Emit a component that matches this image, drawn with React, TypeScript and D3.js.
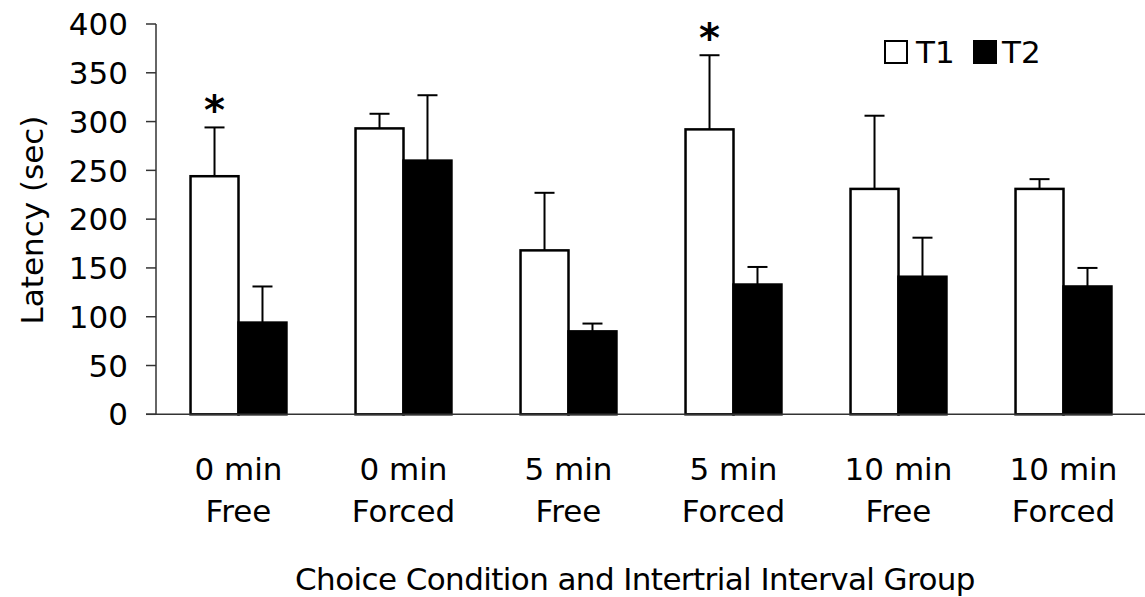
import * as d3 from "d3";

const groups = ["0 min|Free", "0 min|Forced", "5 min|Free", "5 min|Forced", "10 min|Free", "10 min|Forced"];
const t1 = [244, 293, 168, 292, 231, 231];
const t1Err = [50, 15, 59, 76, 75, 10];
const t2 = [94, 260, 85, 133, 141, 131];
const t2Err = [37, 67, 8, 18, 40, 19];
const stars = [true, false, false, true, false, false];
const yTicks = [0, 50, 100, 150, 200, 250, 300, 350, 400];

const W = 1145;
const H = 597;
const FONT = "DejaVu Sans";

export default function App() {
  const x0 = d3.scaleBand<string>().domain(groups).range([156, 1146]);
  const x1 = d3.scaleBand<string>().domain(["T1", "T2"]).range([0, x0.bandwidth()]).paddingOuter(0.72);
  const y = d3.scaleLinear().domain([0, 400]).range([414.3, 24]);
  const bw = x1.bandwidth();

  const series = [
    { key: "T1", vals: t1, errs: t1Err, fill: "#fff" },
    { key: "T2", vals: t2, errs: t2Err, fill: "#000" },
  ];

  return (
    <svg width={W} height={H} style={{ position: "absolute", left: 0, top: 0, background: "#fff" }} fontFamily={FONT}>
      {/* error bars drawn first so the bar outline covers the stem */}
      {series.map((s) =>
        groups.map((g, i) => {
          const cx = (x0(g) ?? 0) + (x1(s.key) ?? 0) + bw / 2;
          const top = y(s.vals[i] + s.errs[i]);
          return (
            <g key={s.key + g + "e"} stroke="#000" strokeWidth={2}>
              <line x1={cx} x2={cx} y1={y(s.vals[i])} y2={top} />
              <line x1={cx - 10} x2={cx + 10} y1={top} y2={top} />
            </g>
          );
        })
      )}
      {series.map((s) =>
        groups.map((g, i) => (
          <rect
            key={s.key + g}
            x={(x0(g) ?? 0) + (x1(s.key) ?? 0)}
            y={y(s.vals[i])}
            width={bw}
            height={y(0) - y(s.vals[i])}
            fill={s.fill}
            stroke="#000"
            strokeWidth={2.5}
          />
        ))
      )}
      {groups.map((g, i) =>
        stars[i] ? (
          <text
            key={g + "s"}
            x={(x0(g) ?? 0) + (x1("T1") ?? 0) + bw / 2}
            y={y(t1[i] + t1Err[i]) - 3}
            textAnchor="middle"
            fontSize={40}
            fontWeight="bold"
          >
            *
          </text>
        ) : null
      )}

      {/* axes */}
      <line x1={156} x2={156} y1={y(400)} y2={y(0)} stroke="#333" strokeWidth={1.5} />
      <line x1={146} x2={1145} y1={y(0)} y2={y(0)} stroke="#333" strokeWidth={1.5} />
      {yTicks.map((t) => (
        <g key={t}>
          <line x1={146} x2={156} y1={y(t)} y2={y(t)} stroke="#333" strokeWidth={1.5} />
          <text x={128} y={y(t)} dy="0.36em" textAnchor="end" fontSize={31}>
            {t}
          </text>
        </g>
      ))}
      {groups.map((g) => {
        const [a, b] = g.split("|");
        const cx = (x0(g) ?? 0) + x0.bandwidth() / 2;
        return (
          <text key={g + "l"} x={cx} textAnchor="middle" fontSize={31}>
            <tspan x={cx} y={480}>{a}</tspan>
            <tspan x={cx} y={522}>{b}</tspan>
          </text>
        );
      })}
      <text x={635} y={590} textAnchor="middle" fontSize={31} letterSpacing={-0.6}>
        Choice Condition and Intertrial Interval Group
      </text>
      <text transform="translate(43,220) rotate(-90)" textAnchor="middle" fontSize={31}>
        Latency (sec)
      </text>

      {/* legend */}
      <rect x={885} y={41} width={22} height={22} fill="#fff" stroke="#000" strokeWidth={2} />
      <text x={916} y={63} fontSize={31}>T1</text>
      <rect x={974} y={41} width={22} height={22} fill="#000" stroke="#000" strokeWidth={2} />
      <text x={1002} y={63} fontSize={31}>T2</text>
    </svg>
  );
}
